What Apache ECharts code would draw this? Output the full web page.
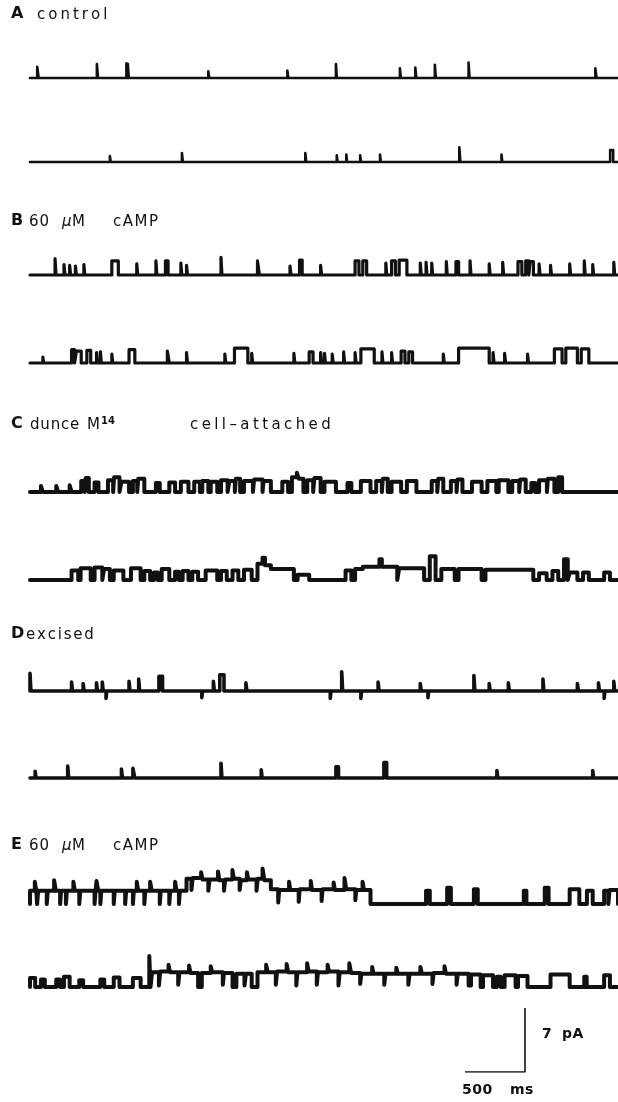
<!DOCTYPE html>
<html>
<head>
<meta charset="utf-8">
<script src="https://cdn.jsdelivr.net/npm/echarts@6/dist/echarts.min.js"></script>
<style>
  html, body { margin: 0; padding: 0; background: #fff; }
  #chart { width: 618px; height: 1102px; }
</style>
</head>
<body>
<div id="chart"></div>
<script>
// recording length shown per trace (ms)
const TRACE_MS = 4880;

// channel openings: [start ms, end ms, current pA]; closed (0 pA) elsewhere
const traceA1 = [[60,72,1.5],[555,565,1.9],[800,808,2.0],[812,820,1.9],[1480,1488,0.9],[2136,2144,1.0],
  [2539,2547,1.9],[3070,3078,1.3],[3198,3206,1.4],[3360,3368,1.8],[3640,3648,2.1],[4692,4702,1.3]];
const traceA2 = [[663,670,0.8],[1261,1269,1.2],[2285,2293,1.2],[2546,2553,0.9],[2625,2632,1.0],
  [2740,2747,0.9],[2905,2912,1.0],[3563,3572,2.0],[3913,3920,1.0],[4815,4840,1.6]];
const traceB1 = [[208,216,2.2],[282,290,1.4],[329,337,1.3],[377,385,1.2],[447,455,1.4],[679,733,1.9],
  [886,894,1.5],[1045,1053,1.9],[1124,1146,1.9],[1252,1260,1.6],[1299,1307,1.3],[1585,1593,2.4],
  [1888,1904,1.9],[2158,2166,1.2],[2237,2259,2.0],[2412,2420,1.3],[2698,2730,1.9],[2762,2794,1.9],
  [2953,2961,1.6],[3001,3033,1.9],[3064,3128,2.0],[3239,3247,1.6],[3287,3295,1.7],[3334,3342,1.6],
  [3455,3463,1.8],[3535,3557,1.8],[3652,3660,1.9],[3811,3819,1.5],[3923,3931,1.7],[4050,4082,1.8],
  [4114,4140,1.9],[4150,4178,1.8],[4225,4233,1.5],[4320,4328,1.3],[4479,4487,1.5],[4600,4608,1.9],
  [4670,4678,1.4],[4845,4853,1.7]];
const traceB2 = [[107,113,0.8],[345,370,1.8],[385,425,1.6],[472,504,1.7],[552,560,1.4],[584,592,1.5],
  [679,687,1.2],[822,870,1.8],[1140,1156,1.6],[1299,1307,1.4],[1617,1625,1.2],[1697,1808,2.0],
  [1840,1848,1.3],[2190,2198,1.3],[2317,2349,1.5],[2412,2420,1.4],[2444,2452,1.3],[2508,2516,1.2],
  [2603,2611,1.5],[2698,2706,1.4],[2746,2857,1.9],[2921,2929,1.5],[3001,3009,1.4],[3080,3112,1.6],
  [3144,3175,1.5],[3430,3438,1.2],[3557,3811,2.0],[3843,3851,1.4],[3939,3947,1.3],[4129,4137,1.2],
  [4352,4416,1.9],[4447,4543,2.0],[4575,4638,1.9]];
const traceC1 = [[91,107,0.8],[218,234,0.8],[329,345,0.9],[425,455,1.5],[462,488,1.9],[536,568,1.3],
  [647,690,1.6],[698,743,2.0],[759,822,1.4],[854,890,1.5],[898,949,1.8],[1045,1077,1.2],[1156,1204,1.3],
  [1252,1315,1.4],[1363,1410,1.4],[1430,1480,1.5],[1500,1554,1.4],[1585,1640,1.6],[1655,1700,1.5],
  [1708,1744,1.8],[1776,1850,1.5],[1860,1930,1.7],[1938,1999,1.5],[2094,2142,1.4],[2174,2215,2.0],
  [2215,2230,2.6],[2230,2269,1.8],[2301,2350,1.6],[2360,2412,1.9],[2444,2539,1.4],[2635,2667,1.2],
  [2746,2826,1.5],[2873,2920,1.5],[2928,2969,1.8],[3001,3080,1.4],[3128,3207,1.5],[3334,3380,1.5],
  [3388,3430,1.8],[3493,3540,1.5],[3548,3589,1.7],[3668,3748,1.4],[3796,3870,1.5],[3890,3970,1.6],
  [4002,4060,1.5],[4068,4114,1.7],[4161,4193,1.2],[4225,4290,1.6],[4298,4352,1.8],[4384,4416,2.0]];
const traceC2 = [[345,400,1.3],[420,504,1.6],[536,600,1.7],[615,663,1.5],[695,775,1.3],[838,918,1.6],
  [949,997,1.2],[1029,1061,1.0],[1093,1156,1.5],[1204,1236,1.1],[1267,1315,1.2],[1347,1395,1.1],
  [1458,1554,1.3],[1585,1633,1.2],[1681,1729,1.3],[1776,1840,1.4],[1888,1930,2.2],[1930,1950,3.0],
  [1950,1999,2.0],[1999,2190,1.5],[2221,2317,0.7],[2619,2667,1.3],[2698,2762,1.5],[2762,2900,1.8],
  [2900,2920,2.8],[2920,3048,1.8],[3064,3271,1.6],[3318,3366,3.2],[3414,3525,1.5],[3557,3748,1.5],
  [3780,4177,1.4],[4225,4288,0.9],[4336,4384,1.2],[4432,4463,2.8],[4479,4543,1.0],[4590,4638,1.0],
  [4765,4813,1.0]];
const traceD1 = [[0,8,2.4],[345,353,1.2],[441,449,1.0],[552,560,1.1],[600,608,1.2],[631,637,-1.0],
  [822,830,1.3],[902,910,1.6],[1070,1100,2.0],[1426,1432,-0.9],[1522,1530,1.3],[1575,1610,2.2],
  [1792,1800,1.1],[2492,2498,-1.0],[2587,2595,2.6],[2746,2752,-1.0],[2889,2897,1.2],[3239,3247,1.0],
  [3303,3309,-0.9],[3684,3692,2.1],[3811,3819,1.0],[3970,3978,1.1],[4257,4265,1.6],[4543,4551,1.0],
  [4718,4726,1.1],[4765,4771,-1.0],[4845,4853,1.3]];
const traceD2 = [[43,50,0.9],[313,321,1.6],[759,767,1.2],[854,870,1.3],[1585,1593,2.0],[1919,1927,1.1],
  [2539,2560,1.5],[2937,2960,2.1],[3875,3883,1.0],[4670,4678,1.0]];
const traceE1 = [[0,40,1.8],[40,52,3.0],[52,59,1.8],[59,68,0],[68,139,1.8],[139,148,0],[148,200,1.8],
  [200,214,3.2],[214,250,1.8],[250,258,0],[258,298,1.8],[298,306,0],[306,360,1.8],[360,372,3.0],
  [372,409,1.8],[409,418,0],[418,536,1.8],[536,544,0],[544,552,1.8],[552,566,3.1],[566,584,1.8],
  [584,592,0],[592,695,1.8],[695,703,0],[703,790,1.8],[790,798,0],[798,854,1.8],[854,862,0],
  [862,886,1.8],[886,898,3.0],[898,949,1.8],[949,957,0],[957,997,1.8],[997,1010,3.0],[1010,1077,1.8],
  [1077,1085,0],[1085,1156,1.8],[1156,1164,0],[1164,1204,1.8],[1204,1216,3.0],[1216,1236,1.8],
  [1236,1244,0],[1244,1299,1.8],
  [1299,1340,3.4],[1340,1350,1.9],[1350,1420,3.5],[1420,1432,4.3],[1432,1480,3.3],[1480,1490,1.8],
  [1490,1560,3.3],[1560,1572,4.4],[1572,1610,3.2],[1610,1620,1.8],[1620,1680,3.3],[1680,1692,4.6],
  [1692,1740,3.4],[1740,1750,1.9],[1750,1800,3.2],[1800,1812,4.3],[1812,1880,3.3],[1880,1890,1.8],
  [1890,1930,3.4],[1930,1945,4.8],[1945,1999,3.2],
  [1999,2060,2.0],[2060,2068,0.2],[2068,2150,1.9],[2150,2160,3.0],[2160,2230,1.9],[2230,2238,0.3],
  [2238,2330,2.0],[2330,2340,3.1],[2340,2420,1.9],[2420,2428,0.4],[2428,2520,2.0],[2520,2530,2.9],
  [2530,2610,1.9],[2610,2625,3.5],[2625,2700,2.0],[2700,2708,0.5],[2708,2760,1.9],[2760,2772,3.0],
  [2772,2826,1.9],
  [3287,3318,1.8],[3462,3493,2.2],[3684,3716,2.0],[4098,4120,1.8],[4272,4304,2.2],[4479,4559,2.0],
  [4622,4670,1.8],[4765,4800,1.8],[4810,4880,1.9]];
const traceE2 = [[0,43,1.2],[91,123,1.0],[218,250,1.0],[282,329,1.4],[409,441,0.9],[584,616,1.0],
  [695,743,1.3],[854,918,1.2],[990,1000,4.2],
  [1013,1070,2.0],[1070,1080,0.2],[1080,1150,2.1],[1150,1162,3.0],[1162,1230,2.0],[1230,1240,0.3],
  [1240,1320,2.0],[1320,1332,2.9],[1332,1395,1.9],[1426,1500,1.9],[1500,1512,2.8],[1512,1600,2.0],
  [1600,1610,0.3],[1610,1681,1.9],[1713,1780,1.8],[1780,1792,0.2],[1792,1840,1.8],[1888,1960,2.0],
  [1960,1972,3.0],[1972,2040,2.0],[2040,2050,0.3],[2050,2130,2.1],[2130,2142,3.1],[2142,2210,2.0],
  [2210,2220,0.2],[2220,2300,2.0],[2300,2312,3.2],[2312,2380,2.1],[2380,2390,0.3],[2390,2470,2.0],
  [2470,2482,3.0],[2482,2560,2.1],[2560,2570,0.2],[2570,2650,2.0],[2650,2665,3.2],[2665,2740,1.9],
  [2740,2750,0.4],[2750,2840,1.8],[2840,2850,2.7],[2850,2940,1.8],[2940,2950,0.3],[2950,3040,1.8],
  [3040,3052,2.6],[3052,3140,1.8],[3140,3150,0.3],[3150,3240,1.8],[3240,3252,2.7],[3252,3340,1.8],
  [3340,3350,0.4],[3350,3440,1.9],[3440,3452,2.8],[3452,3540,1.8],[3540,3550,0.3],[3550,3640,1.8],
  [3640,3660,0.2],[3660,3740,1.7],[3760,3843,1.6],
  [3875,3907,1.4],[3939,4030,1.6],[4050,4129,1.5],[4320,4479,1.7],[4600,4620,1.4],[4765,4813,1.6]];

// panel labels: [text, x, style, size, dy, letter spacing]
const panelLabels = [
  { y: 15, parts: [["A", 11, "bold", 16, 0, 0], ["control", 37, "", 15, 1, 3]] },
  { y: 222, parts: [["B", 11, "bold", 16, 0, 0], ["60", 29, "", 15, 1, 1], ["μ", 62, "italic", 15, 1, 0],
    ["M", 72, "", 15, 1, 0], ["cAMP", 113, "", 15, 1, 1.5]] },
  { y: 425, parts: [["C", 11, "bold", 16, 0, 0], ["dunce", 30, "", 15, 1, 0.8], ["M", 87, "", 15, 1, 0],
    ["14", 101, "bold", 10, -3, 0], ["cell–attached", 190, "", 15, 1, 3.4]] },
  { y: 635, parts: [["D", 11, "bold", 16, 0, 0], ["excised", 26, "", 15, 1, 1.8]] },
  { y: 846, parts: [["E", 11, "bold", 16, 0, 0], ["60", 29, "", 15, 1, 1], ["μ", 62, "italic", 15, 1, 0],
    ["M", 72, "", 15, 1, 0], ["cAMP", 113, "", 15, 1, 1.5]] }
];
// scale bar
const barTime = 500;   // ms
const barCurrent = 7;  // pA
const barLabels = [["7", 542], ["pA", 562], ["500", 462], ["ms", 510]];

// layout: baseline pixel row of each trace
const traces = [
  { data: traceA1, base: 78, lw: 2.6 },
  { data: traceA2, base: 162, lw: 2.6 },
  { data: traceB1, base: 275, lw: 3.2 },
  { data: traceB2, base: 363, lw: 3.2 },
  { data: traceC1, base: 492, lw: 4 },
  { data: traceC2, base: 580, lw: 4 },
  { data: traceD1, base: 691, lw: 3.6 },
  { data: traceD2, base: 778, lw: 3.6 },
  { data: traceE1, base: 904, lw: 4 },
  { data: traceE2, base: 987, lw: 4 }
];

const PX_PER_PA = 7.4;
const ABOVE = 44, BELOW = 20;

function steps(events) {
  const pts = [[0, 0]];
  let last = 0;
  events.forEach(([t0, t1, lvl]) => {
    if (t0 > last) { pts.push([last, 0], [t0, 0]); }
    pts.push([t0, lvl], [t1, lvl]);
    last = t1;
  });
  pts.push([last, 0], [TRACE_MS, 0]);
  return pts;
}

const chart = echarts.init(document.getElementById("chart"), null, { renderer: "canvas" });

const grid = [], xAxis = [], yAxis = [], series = [];
traces.forEach((tr, i) => {
  grid.push({ left: 30, right: 0, top: tr.base - ABOVE, height: ABOVE + BELOW });
  xAxis.push({ gridIndex: i, type: "value", min: 0, max: TRACE_MS, show: false });
  yAxis.push({ gridIndex: i, type: "value", min: -BELOW / PX_PER_PA, max: ABOVE / PX_PER_PA, show: false });
  series.push({
    type: "line", xAxisIndex: i, yAxisIndex: i, data: steps(tr.data),
    showSymbol: false, animation: false, silent: true,
    lineStyle: { color: "#111", width: tr.lw, join: "round", cap: "round" }
  });
});

// scale bar grid: 60 px = 500 ms, bar from y 1008 to 1072
const sb = traces.length;
grid.push({ left: 465, top: 1008, width: 60, height: 64 });
xAxis.push({ gridIndex: sb, type: "value", min: 0, max: barTime, show: false });
yAxis.push({ gridIndex: sb, type: "value", min: 0, max: barCurrent, show: false });
series.push({
  type: "line", xAxisIndex: sb, yAxisIndex: sb,
  data: [[0, 0], [barTime, 0], [barTime, barCurrent]],
  showSymbol: false, animation: false, silent: true,
  lineStyle: { color: "#111", width: 1.6 }
});

const FONT = "DejaVu Sans";
const measure = document.createElement("canvas").getContext("2d");
const graphic = [];

// letter-spaced text, one glyph per element
function spacedText(txt, x, top, font, spacing) {
  measure.font = font;
  let cx = x;
  for (const ch of txt) {
    graphic.push({ type: "text", left: cx, top: top, silent: true,
      style: { text: ch, font: font, fill: "#111" } });
    cx += measure.measureText(ch).width + spacing;
  }
}

panelLabels.forEach((p) => {
  p.parts.forEach(([txt, x, st, size, dy, sp]) => {
    spacedText(txt, x, p.y - size / 2 - 1 + dy, (st ? st + " " : "") + size + "px " + FONT, sp);
  });
});
barLabels.forEach(([txt, x], i) => {
  spacedText(txt, x, i < 2 ? 1027 : 1083, "bold 14px " + FONT, 0.5);
});

chart.setOption({ animation: false, grid, xAxis, yAxis, series, graphic });
</script>
</body>
</html>
